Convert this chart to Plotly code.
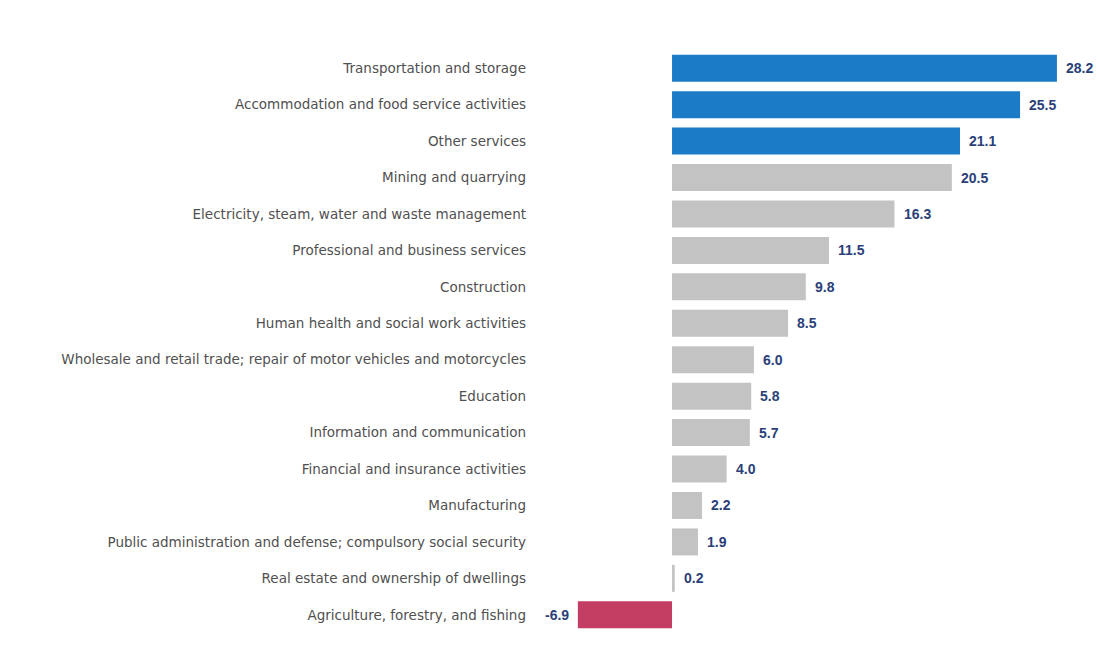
import plotly.graph_objects as go

categories = [
    "Transportation and storage",
    "Accommodation and food service activities",
    "Other services",
    "Mining and quarrying",
    "Electricity, steam, water and waste management",
    "Professional and business services",
    "Construction",
    "Human health and social work activities",
    "Wholesale and retail trade; repair of motor vehicles and motorcycles",
    "Education",
    "Information and communication",
    "Financial and insurance activities",
    "Manufacturing",
    "Public administration and defense; compulsory social security",
    "Real estate and ownership of dwellings",
    "Agriculture, forestry, and fishing",
]
values = [28.2, 25.5, 21.1, 20.5, 16.3, 11.5, 9.8, 8.5, 6.0, 5.8, 5.7, 4.0, 2.2, 1.9, 0.2, -6.9]
highlight = ["top", "top", "top", "", "", "", "", "", "", "", "", "", "", "", "", "neg"]

BLUE = "#1b7bc6"
GRAY = "#c3c3c3"
RED = "#c43d62"
colors = [BLUE if h == "top" else (RED if h == "neg" else GRAY) for h in highlight]

fig = go.Figure(go.Bar(
    x=values, y=categories, orientation="h",
    marker=dict(color=colors, line=dict(width=0)),
    width=0.74,
))

for c, v in zip(categories, values):
    fig.add_annotation(
        x=v, y=c, text=f"<b>{v:.1f}</b>", showarrow=False,
        xanchor="left" if v >= 0 else "right",
        xshift=7 if v >= 0 else -7,
        font=dict(family="Liberation Sans, Arial, sans-serif", size=14, color="#2b3f78"),
    )

fig.update_layout(
    width=1099, height=651,
    margin=dict(l=535, r=10, t=50, b=18),
    paper_bgcolor="white", plot_bgcolor="white",
    showlegend=False,
    xaxis=dict(range=[-10.04, 30.55], visible=False, fixedrange=True),
    yaxis=dict(
        autorange="reversed", showgrid=False, zeroline=False, showline=False,
        ticks="", ticklabelstandoff=8,
        tickfont=dict(family="DejaVu Sans, sans-serif", size=13.5, color="#505050"),
    ),
)

fig.write_html("out.html")
